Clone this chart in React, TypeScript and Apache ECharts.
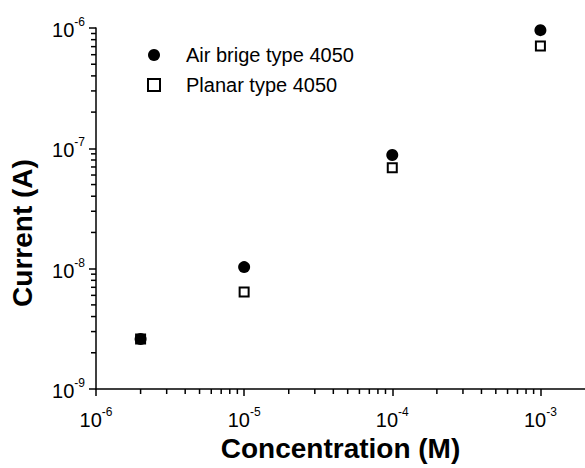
import React, { useEffect, useRef } from 'react';
import * as echarts from 'echarts';

const concentrations = [2e-6, 1e-5, 1e-4, 1e-3];
const airBridgeCurrent = [2.6e-9, 1.03e-8, 8.8e-8, 9.6e-7];
const planarCurrent = [2.6e-9, 6.4e-9, 6.9e-8, 7.1e-7];
const seriesNames = ['Air brige type 4050', 'Planar type 4050'];
const xTitle = 'Concentration (M)';
const yTitle = 'Current (A)';
const xRange = [1e-6, 2e-3];
const yRange = [1e-9, 1e-6];
const minorMantissas = [2, 3, 4, 5, 6, 7, 8, 9];
const xDecades = [1e-6, 1e-5, 1e-4, 1e-3];
const yDecades = [1e-9, 1e-8, 1e-7];

const FONT = '"Liberation Sans", Arial, Helvetica, sans-serif';

function minorValues(decades: number[], max: number): number[] {
  const out: number[] = [];
  decades.forEach((d) => minorMantissas.forEach((m) => {
    const v = d * m;
    if (v < max * 0.999) out.push(v);
  }));
  return out;
}

function powLabel(v: number): string {
  const e = Math.round(Math.log10(v));
  return `{b|10}{s|${e}}`;
}

const richStyle = {
  b: { fontSize: 20, fontFamily: FONT, color: '#000', lineHeight: 24, verticalAlign: 'bottom' },
  s: { fontSize: 12, fontFamily: FONT, color: '#000', lineHeight: 24, verticalAlign: 'top' },
};

export default function App() {
  const ref = useRef<HTMLDivElement>(null);
  useEffect(() => {
    if (!ref.current) return;
    const chart = echarts.init(ref.current, null, { renderer: 'svg' });
    chart.setOption({
      animation: false,
      backgroundColor: '#fff',
      grid: { left: 96, right: 0, top: 28, bottom: 79, containLabel: false },
      legend: {
        orient: 'vertical',
        left: 142,
        top: 40,
        itemWidth: 12,
        itemHeight: 12,
        itemGap: 10,
        selectedMode: false,
        data: [
          { name: seriesNames[0], icon: 'circle' },
          {
            name: seriesNames[1],
            icon: 'rect',
            itemStyle: { color: '#fff', borderColor: '#000', borderWidth: 2 },
          },
        ],
        textStyle: { fontSize: 20, fontFamily: FONT, color: '#000', padding: [0, 0, 0, 21] },
      },
      xAxis: {
        type: 'log',
        logBase: 10,
        min: xRange[0],
        max: xRange[1],
        name: xTitle,
        nameLocation: 'middle',
        nameGap: 45,
        nameTextStyle: { fontSize: 28, fontWeight: 'bold', fontFamily: FONT, color: '#000' },
        axisLine: { lineStyle: { color: '#000', width: 1.5 } },
        axisTick: { length: 7, lineStyle: { color: '#000', width: 1.5 } },
        splitLine: { show: false },
        axisLabel: { showMaxLabel: false, margin: 17, formatter: powLabel, rich: richStyle },
      },
      yAxis: {
        type: 'log',
        logBase: 10,
        min: yRange[0],
        max: yRange[1],
        axisLine: { show: true, lineStyle: { color: '#000', width: 1.5 } },
        axisTick: { show: true, length: 7, lineStyle: { color: '#000', width: 1.5 } },
        splitLine: { show: false },
        axisLabel: { margin: 11, formatter: powLabel, rich: richStyle },
      },
      series: [
        {
          type: 'scatter',
          name: seriesNames[1],
          symbol: 'rect',
          symbolSize: 9,
          itemStyle: { color: '#fff', borderColor: '#000', borderWidth: 2, opacity: 1 },
          data: concentrations.map((c, i) => [c, planarCurrent[i]]),
          z: 3,
        },
        {
          type: 'scatter',
          name: seriesNames[0],
          symbol: 'circle',
          symbolSize: 12,
          itemStyle: { color: '#000', opacity: 1 },
          data: concentrations.map((c, i) => [c, airBridgeCurrent[i]]),
          z: 4,
        },
      ],
    });

    const lineStyle = { stroke: '#000', lineWidth: 1.5 };
    const graphics: any[] = [];
    minorValues(xDecades, xRange[1]).forEach((v) => {
      const p = chart.convertToPixel({ gridIndex: 0 }, [v, yRange[0]]) as number[];
      graphics.push({ type: 'line', silent: true, z: 10, shape: { x1: p[0], y1: p[1], x2: p[0], y2: p[1] + 5 }, style: lineStyle });
    });
    minorValues(yDecades, yRange[1]).forEach((v) => {
      const p = chart.convertToPixel({ gridIndex: 0 }, [xRange[0], v]) as number[];
      graphics.push({ type: 'line', silent: true, z: 10, shape: { x1: p[0] - 5, y1: p[1], x2: p[0], y2: p[1] }, style: lineStyle });
    });
    graphics.push({
      type: 'text',
      x: 22,
      y: 233,
      rotation: Math.PI / 2,
      style: {
        text: yTitle,
        fontSize: 28,
        fontWeight: 'bold',
        fontFamily: FONT,
        fill: '#000',
        align: 'center',
        verticalAlign: 'middle',
      },
    });
    chart.setOption({ graphic: graphics });
    return () => chart.dispose();
  }, []);
  return (
    <div
      ref={ref}
      style={{ position: 'absolute', left: 0, top: 0, width: 585, height: 468, background: '#fff' }}
    />
  );
}
